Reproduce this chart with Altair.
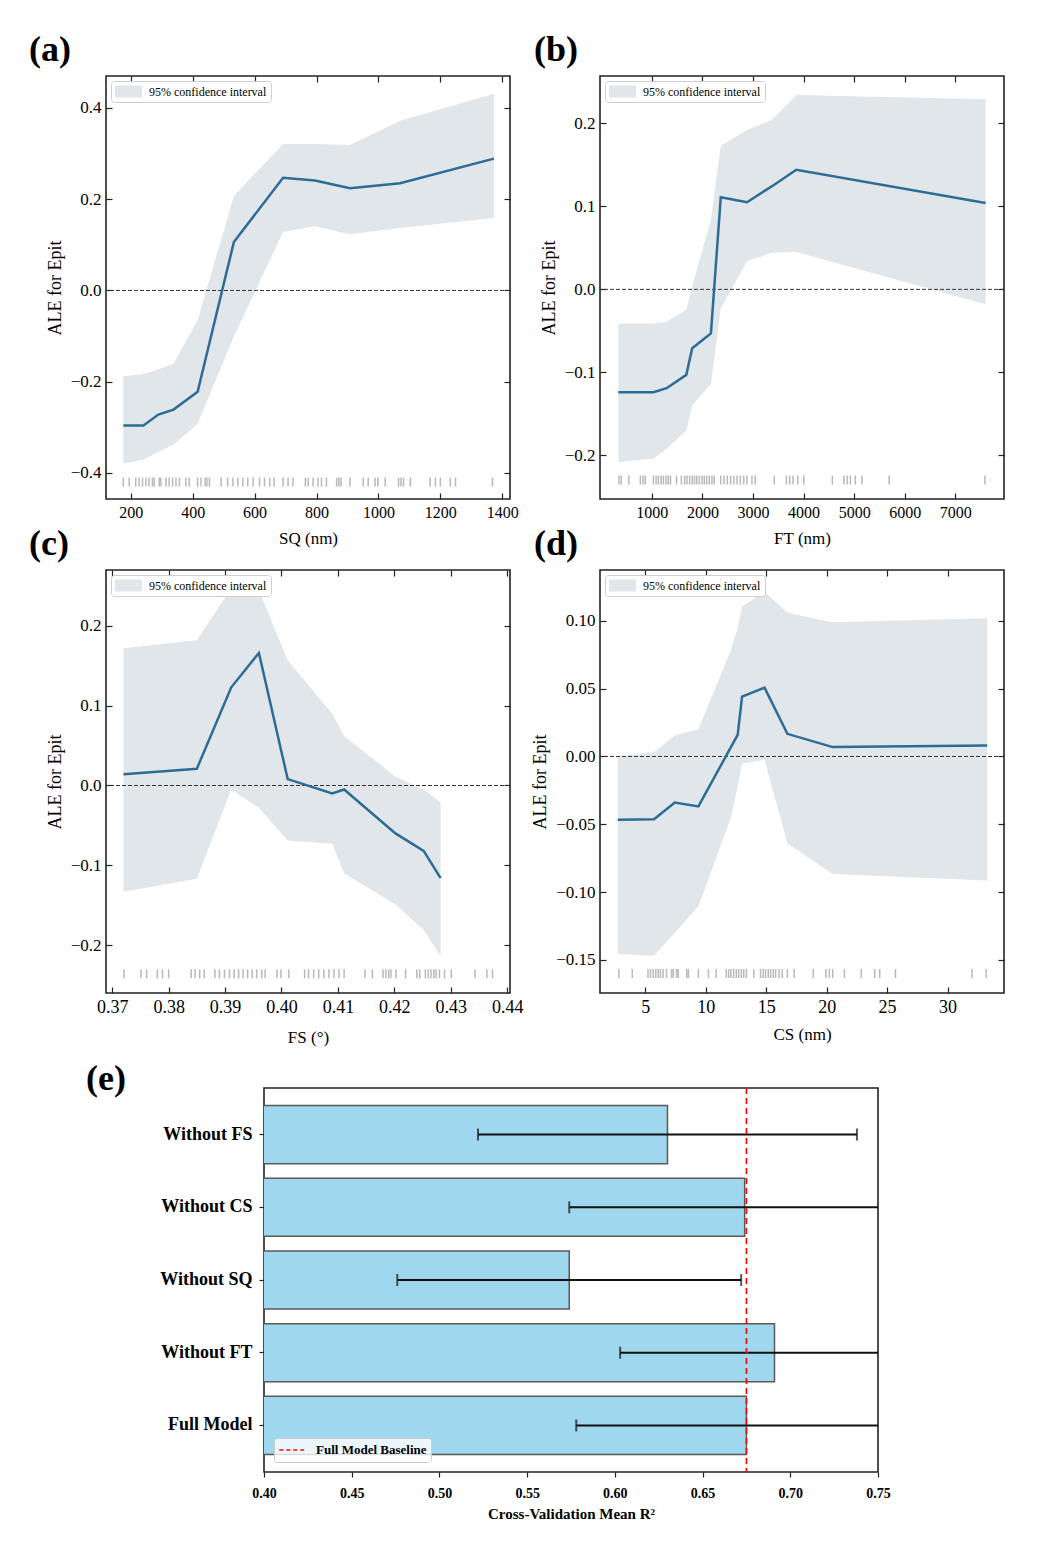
import altair as alt
import pandas as pd

FONT = "Liberation Serif"
BAND = "#E1E6EB"
LINE = "#2D6C96"
CI_LABEL = "95% confidence interval"

# ---------------- (a) SQ ----------------
sq_x = [176, 241, 289, 338, 416, 533, 692, 795, 908, 1070, 1373]
sq_ale = [-0.296, -0.296, -0.272, -0.261, -0.222, 0.106, 0.247, 0.241, 0.224, 0.235, 0.289]
sq_hi = [-0.188, -0.183, -0.173, -0.160, -0.065, 0.207, 0.321, 0.321, 0.319, 0.372, 0.431]
sq_lo = [-0.380, -0.371, -0.354, -0.338, -0.292, -0.101, 0.128, 0.141, 0.123, 0.137, 0.159]
sq_rug = [176, 195, 216, 227, 238, 249, 259, 270, 276, 292, 297, 314, 324, 335, 346, 357,
          378, 389, 416, 427, 440, 446, 454, 492, 513, 530, 546, 562, 578, 595, 616, 632,
          649, 663, 692, 708, 724, 764, 773, 789, 805, 816, 832, 865, 872, 879, 908, 951,
          967, 989, 998, 1022, 1065, 1073, 1081, 1103, 1167, 1184, 1200, 1232, 1249, 1368]

# ---------------- (b) FT ----------------
ft_x = [338, 1032, 1292, 1681, 1798, 2168, 2363, 2882, 3369, 3856, 7600]
ft_ale = [-0.124, -0.124, -0.119, -0.103, -0.071, -0.053, 0.111, 0.105, 0.124, 0.144, 0.104]
ft_hi = [-0.041, -0.041, -0.039, -0.025, 0.004, 0.084, 0.173, 0.192, 0.204, 0.234, 0.229]
ft_lo = [-0.208, -0.204, -0.192, -0.170, -0.140, -0.114, -0.023, 0.034, 0.044, 0.045, -0.018]
ft_rug = [351, 396, 546, 773, 825, 870, 1032, 1084, 1130, 1182, 1227, 1279, 1325, 1370,
          1487, 1584, 1649, 1694, 1746, 1798, 1844, 1889, 1941, 1993, 2038, 2084, 2136,
          2188, 2233, 2363, 2428, 2493, 2558, 2623, 2687, 2752, 2817, 2882, 2979, 3044,
          3421, 3661, 3726, 3791, 3888, 4005, 4570, 4797, 4862, 4926, 5024, 5154, 5692, 7587]

# ---------------- (c) FS ----------------
fs_x = [0.3720, 0.3850, 0.3911, 0.3960, 0.4011, 0.4090, 0.4111, 0.4202, 0.4252, 0.4282]
fs_ale = [0.014, 0.021, 0.123, 0.166, 0.008, -0.010, -0.005, -0.060, -0.082, -0.116]
fs_hi = [0.172, 0.182, 0.247, 0.245, 0.157, 0.090, 0.062, 0.011, -0.005, -0.021]
fs_lo = [-0.133, -0.117, -0.005, -0.028, -0.069, -0.073, -0.110, -0.149, -0.181, -0.214]
fs_rug = [0.3721, 0.3751, 0.3761, 0.3780, 0.3789, 0.3800, 0.3840, 0.3847, 0.3855, 0.3863,
          0.3882, 0.3890, 0.3899, 0.3908, 0.3916, 0.3924, 0.3932, 0.3940, 0.3948, 0.3956,
          0.3965, 0.3971, 0.3992, 0.3999, 0.4013, 0.4041, 0.4048, 0.4057, 0.4066, 0.4075,
          0.4084, 0.4093, 0.4102, 0.4111, 0.4148, 0.4161, 0.4180, 0.4185, 0.4190, 0.4194,
          0.4203, 0.4220, 0.4240, 0.4245, 0.4255, 0.4260, 0.4265, 0.4270, 0.4274, 0.4280,
          0.4289, 0.4301, 0.4343, 0.4364, 0.4374]

# ---------------- (d) CS ----------------
cs_x = [2.72, 5.72, 7.44, 9.39, 12.08, 12.64, 13.0, 14.86, 16.75, 20.5, 33.28]
cs_ale = [-0.0467, -0.0462, -0.0339, -0.0368, 0.0069, 0.016, 0.0442, 0.0508, 0.0167, 0.0069, 0.0081]
cs_hi = [0.0, 0.0032, 0.0155, 0.0201, 0.0786, 0.095, 0.1105, 0.1216, 0.106, 0.099, 0.102]
cs_lo = [-0.1456, -0.1469, -0.130, -0.1105, -0.0454, -0.022, -0.0054, -0.0025, -0.0639, -0.0867, -0.0914]
cs_rug = [2.81, 3.92, 5.22, 5.42, 5.64, 5.86, 6.06, 6.25, 6.47, 6.75, 7.17, 7.31, 7.58, 7.72,
          8.42, 8.56, 9.39, 10.22, 10.86, 11.69, 11.89, 12.08, 12.31, 12.53, 12.72, 12.94,
          13.14, 13.36, 13.97, 14.53, 14.75, 14.94, 15.17, 15.36, 15.58, 15.78, 16.06, 16.33,
          16.75, 17.31, 18.89, 19.94, 20.22, 20.5, 21.47, 22.86, 23.97, 24.39, 25.69, 32.03, 33.19]

# ---------------- (e) ablation ----------------
cats = ["Without FS", "Without CS", "Without SQ", "Without FT", "Full Model"]
r2_mean = [0.630, 0.674, 0.574, 0.691, 0.675]
r2_std = [0.108, 0.100, 0.098, 0.088, 0.097]


def tick_axis(orient, values):
    return alt.Axis(orient=orient, values=values, labels=False, domain=False, grid=False,
                    ticks=True, tickSize=6, offset=-6, title=None, minExtent=0)


def ale_panel(xs_, ale_, lo_, hi_, rug_, rug_y, label, label_dx, xtitle, xdom, ydom,
              xticks, yticks, xfmt, yfmt, xlab_size, xtitle_pad):
    df = pd.DataFrame({"x": xs_, "ale": ale_, "lo": lo_, "hi": hi_, "band": CI_LABEL})
    rug_df = pd.DataFrame({"r": rug_, "ry": rug_y})
    zero_df = pd.DataFrame({"z": [0.0]})
    xsc = alt.Scale(domain=xdom, nice=False, zero=False)
    ysc = alt.Scale(domain=ydom, nice=False, zero=False)

    ax_x = alt.Axis(orient="bottom", values=xticks, format=xfmt, ticks=False, tickSize=0,
                    domain=False, grid=False, labelFontSize=xlab_size, labelPadding=5,
                    labelFlush=False, labelOverlap=False, title=xtitle, titlePadding=xtitle_pad,
                    titleFontSize=17)
    ax_y = alt.Axis(orient="left", values=yticks, format=yfmt, ticks=False, tickSize=0,
                    domain=False, grid=False, labelFontSize=17, labelPadding=5,
                    labelFlush=False, labelOverlap=False, title="ALE for Epit",
                    titlePadding=6, titleFontSize=18)

    band = alt.Chart(df).mark_area(opacity=1).encode(
        x=alt.X("x:Q", scale=xsc, axis=ax_x),
        y=alt.Y("lo:Q", scale=ysc, axis=ax_y),
        y2="hi:Q",
        fill=alt.Fill("band:N", scale=alt.Scale(domain=[CI_LABEL], range=[BAND]),
                      legend=alt.Legend(title=None, orient="top-left", offset=5, padding=4,
                                        strokeColor="#cfcfcf", fillColor="white",
                                        cornerRadius=3, symbolType="M-1,-0.45H1V0.45H-1Z",
                                        symbolSize=729, symbolStrokeWidth=0, clipHeight=13,
                                        labelFont=FONT, labelFontSize=12, labelColor="black",
                                        labelOffset=7)),
    )
    zero = alt.Chart(zero_df).mark_rule(strokeDash=[4, 2], color="#333333", strokeWidth=1).encode(
        y=alt.Y("z:Q", scale=ysc, axis=None)
    )
    line = alt.Chart(df).mark_line(color=LINE, strokeWidth=2.5).encode(
        x=alt.X("x:Q", scale=xsc, axis=tick_axis("bottom", xticks)),
        y=alt.Y("ale:Q", scale=ysc, axis=tick_axis("left", yticks)),
    )
    rug = alt.Chart(rug_df).mark_tick(orient="vertical", size=9, thickness=1.5,
                                      color="#8a8a8a", opacity=0.6).encode(
        x=alt.X("r:Q", scale=xsc, axis=tick_axis("top", xticks)),
        y=alt.Y("ry:Q", scale=ysc, axis=tick_axis("right", yticks)),
    )
    return alt.layer(band, zero, line, rug).resolve_axis(
        x="independent", y="independent"
    ).properties(
        width=404, height=423,
        title=alt.TitleParams(text=label, anchor="start", frame="group", dx=label_dx,
                              offset=-22, fontSize=36, fontWeight="bold", font=FONT,
                              baseline="alphabetic", color="black"),
    )


pa = ale_panel(sq_x, sq_ale, sq_lo, sq_hi, sq_rug, -0.42, "(a)", -77, "SQ (nm)",
               [120, 1425], [-0.457, 0.47], [200, 400, 600, 800, 1000, 1200, 1400],
               [-0.4, -0.2, 0.0, 0.2, 0.4], "d", ".1f", 16, 10)
pb = ale_panel(ft_x, ft_ale, ft_lo, ft_hi, ft_rug, -0.2297, "(b)", -66, "FT (nm)",
               [-25, 7963], [-0.2525, 0.257], [1000, 2000, 3000, 4000, 5000, 6000, 7000],
               [-0.2, -0.1, 0.0, 0.1, 0.2], "d", ".1f", 16, 10)
pc = ale_panel(fs_x, fs_ale, fs_lo, fs_hi, fs_rug, -0.236, "(c)", -77, "FS (°)",
               [0.3689, 0.4405], [-0.260, 0.270], [0.37, 0.38, 0.39, 0.40, 0.41, 0.42, 0.43, 0.44],
               [-0.2, -0.1, 0.0, 0.1, 0.2], ".2f", ".1f", 18, 13)
pd_ = ale_panel(cs_x, cs_ale, cs_lo, cs_hi, cs_rug, -0.160, "(d)", -66, "CS (nm)",
                [1.25, 34.67], [-0.1744, 0.1375], [5, 10, 15, 20, 25, 30],
                [-0.15, -0.10, -0.05, 0.0, 0.05, 0.10], "d", ".2f", 18, 10)

IND = dict(fill="independent", stroke="independent")

top = alt.concat(pa, pb, pc, pd_, columns=2, bounds="flush",
                 spacing={"row": 71, "column": 90}
                 ).resolve_scale(**IND).resolve_legend(**IND)

# ---------------- (e) chart ----------------
e_df = pd.DataFrame({"cat": cats, "r2": r2_mean, "sd": r2_std})
base_df = pd.DataFrame({"b": [r2_mean[-1]], "lab": ["Full Model Baseline"]})
xs_e = alt.Scale(domain=[0.40, 0.75], nice=False, zero=False)
ys_e = alt.Scale(domain=cats, paddingInner=0.2, paddingOuter=0.24)
e_xticks = [0.40, 0.45, 0.50, 0.55, 0.60, 0.65, 0.70, 0.75]

bars = alt.Chart(e_df).mark_bar(fill="#9FD7EF", stroke="#5a5a5a", strokeWidth=1.5, clip=True).encode(
    x=alt.X("r2:Q", scale=xs_e,
            axis=alt.Axis(values=e_xticks, format=".2f", grid=False, domain=False,
                          tickSize=5, labelFontSize=14, labelFontWeight="bold",
                          labelPadding=9, labelFlush=False, labelOverlap=False,
                          title="Cross-Validation Mean R²", titleFontSize=15,
                          titleFontWeight="bold", titlePadding=6)),
    y=alt.Y("cat:N", scale=ys_e,
            axis=alt.Axis(title=None, grid=False, domain=False, tickSize=5,
                          labelFontSize=18, labelFontWeight="bold", labelPadding=7)),
)
err = alt.Chart(e_df).transform_calculate(
    lo="datum.r2 - datum.sd", hi="datum.r2 + datum.sd"
).mark_rule(color="#111111", strokeWidth=2, clip=True).encode(
    x=alt.X("lo:Q", scale=xs_e), x2="hi:Q", y=alt.Y("cat:N", scale=ys_e)
)
caps = alt.Chart(e_df).transform_calculate(
    lo="datum.r2 - datum.sd", hi="datum.r2 + datum.sd"
).transform_fold(["lo", "hi"]).mark_tick(orient="vertical", size=12, thickness=2,
                                         color="#111111", clip=True).encode(
    x=alt.X("value:Q", scale=xs_e), y=alt.Y("cat:N", scale=ys_e)
)
baseline = alt.Chart(base_df).mark_rule(strokeDash=[6, 4], strokeWidth=1.6).encode(
    x=alt.X("b:Q", scale=xs_e),
    stroke=alt.Stroke("lab:N", scale=alt.Scale(domain=["Full Model Baseline"], range=["#ff0000"]),
                      legend=alt.Legend(title=None, orient="bottom-left", offset=10, padding=4,
                                        strokeColor="#cccccc", fillColor="rgba(255,255,255,0.8)",
                                        cornerRadius=3, symbolType="stroke", symbolSize=650,
                                        symbolStrokeWidth=1.6, symbolDash=[4, 3], clipHeight=16,
                                        labelFont=FONT, labelFontSize=13,
                                        labelFontWeight="bold", labelColor="black",
                                        labelOffset=10)),
)
pe = alt.layer(bars, err, caps, baseline).properties(
    width=614, height=384,
    title=alt.TitleParams(text="(e)", anchor="start", frame="group", dx=-178, offset=-39,
                          fontSize=36, fontWeight="bold", font=FONT, baseline="alphabetic",
                          color="black"),
)

# invisible filler that pushes panel (e) to the right (layout only)
filler = alt.Chart(base_df).mark_point(opacity=0).encode(
    x=alt.value(0), y=alt.value(0)
).properties(width=148, height=10, view=alt.ViewBackground(strokeOpacity=0))

bottom = alt.concat(filler, pe, columns=2, bounds="flush", spacing=10
                    ).resolve_scale(**IND).resolve_legend(**IND)

chart = alt.concat(top, bottom, columns=1, spacing=14).resolve_scale(**IND).resolve_legend(**IND).properties(
    padding={"left": 20, "top": 23, "right": 5, "bottom": 5}
).configure_axis(
    labelFont=FONT, titleFont=FONT, labelColor="black", titleColor="black",
    tickColor="#222222", tickWidth=1.2, titleFontWeight="normal"
).configure_view(
    stroke="#222222", strokeWidth=1.6
).configure_title(font=FONT)

chart.save("out.html", embed_options={"renderer": "svg", "actions": False})
